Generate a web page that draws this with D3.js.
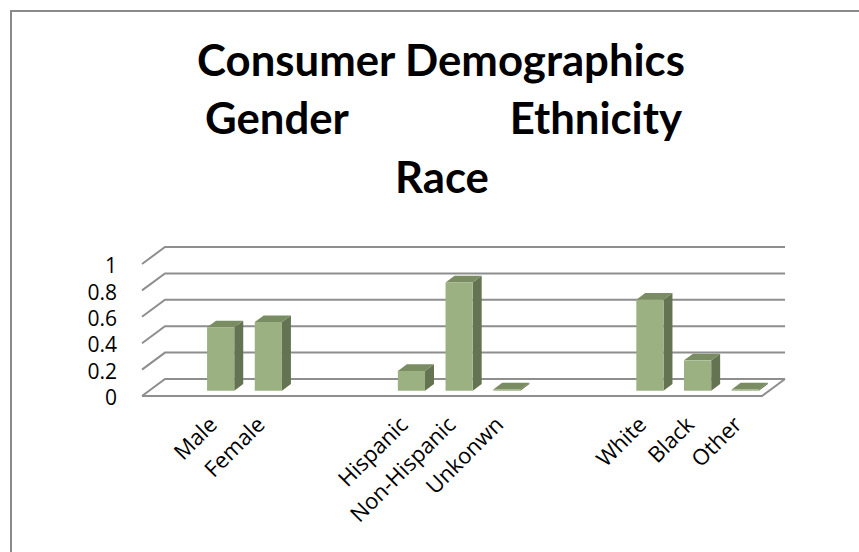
<!DOCTYPE html>
<html>
<head>
<meta charset="utf-8">
<script src="https://cdn.jsdelivr.net/npm/d3@7"></script>
<style>
  body { margin: 0; background: #fff; }
  svg { display: block; }
</style>
</head>
<body>
<div id="chart"></div>
<script>

// chart data
var categories = ["", "Male", "Female", "", "", "Hispanic", "Non-Hispanic", "Unkonwn", "", "", "White", "Black", "Other"];
var values = [null, 0.48, 0.52, null, null, 0.15, 0.82, 0.01, null, null, 0.69, 0.23, 0.01];
var yTicks = [0, 0.2, 0.4, 0.6, 0.8, 1];
var yTickLabels = ["0", "0.2", "0.4", "0.6", "0.8", "1"];
var titleMain = "Consumer Demographics";
var titleLeft = "Gender";
var titleRight = "Ethnicity";
var titleLast = "Race";

var W = 859, H = 552;

// 3d look: how far the back wall sits from the front plane
var depth = {dx: 23, dy: -17};
var barFront = 0.31, barBack = 0.70;

var svg = d3.select("#chart").append("svg")
    .attr("width", W)
    .attr("height", H);

// outer frame
svg.append("rect")
    .attr("x", 11).attr("y", 11)
    .attr("width", 900).attr("height", 600)
    .attr("fill", "none")
    .attr("stroke", "#8a8a8a")
    .attr("stroke-width", 2);

// set the ranges
var x = d3.scaleBand()
    .domain(d3.range(categories.length))
    .range([142, 762])
    .paddingInner(0.43)
    .paddingOuter(0.215);

var y = d3.scaleLinear().domain([0, 1]).range([396, 264]);

function off(z) { return [depth.dx * z, depth.dy * z]; }

var x0 = x.range()[0], x1 = x.range()[1];
var back = off(1);

// gridlines: left wall diagonal + back wall line
var grid = svg.append("g")
    .attr("fill", "none")
    .attr("stroke", "#8e8e8e")
    .attr("stroke-width", 2);

grid.selectAll(".grid")
    .data(yTicks)
  .enter().append("path")
    .attr("class", "grid")
    .attr("d", function(d) {
      return "M" + x0 + "," + y(d) +
             "L" + (x0 + back[0]) + "," + (y(d) + back[1]) +
             "L" + (x1 + back[0]) + "," + (y(d) + back[1]);
    });

// floor front and right edges
grid.append("path")
    .attr("d", "M" + x0 + "," + y(0) + "L" + x1 + "," + y(0) +
               "L" + (x1 + back[0]) + "," + (y(0) + back[1]));

// y axis labels
var yAxis = d3.axisLeft(y)
    .tickValues(yTicks)
    .tickFormat(function(d, i) { return yTickLabels[i]; })
    .tickSize(0)
    .tickPadding(9);

var yg = svg.append("g")
    .attr("transform", "translate(126,2)")
    .call(yAxis);
yg.select(".domain").remove();
yg.selectAll("text")
    .attr("fill", "#000")
    .style("font-family", "'Open Sans', sans-serif")
    .style("font-size", "21px");

// bars: side, top, front
var bars = svg.selectAll(".bar")
    .data(values.map(function(v, i) { return {i: i, v: v}; })
                .filter(function(d) { return d.v != null; }))
  .enter().append("g")
    .attr("class", "bar");

function face(d, which) {
  var f = off(barFront), b = off(barBack);
  var left = x(d.i), right = x(d.i) + x.bandwidth();
  var y0 = y(0), yv = y(d.v);
  var pts;
  if (which == "front") {
    pts = [[left + f[0], y0 + f[1]], [right + f[0], y0 + f[1]],
           [right + f[0], yv + f[1]], [left + f[0], yv + f[1]]];
  } else if (which == "side") {
    pts = [[right + f[0], y0 + f[1]], [right + b[0], y0 + b[1]],
           [right + b[0], yv + b[1]], [right + f[0], yv + f[1]]];
  } else {
    pts = [[left + f[0], yv + f[1]], [right + f[0], yv + f[1]],
           [right + b[0], yv + b[1]], [left + b[0], yv + b[1]]];
  }
  return "M" + pts.join("L") + "Z";
}

bars.append("path").attr("d", function(d) { return face(d, "side"); }).attr("fill", "#647453");
bars.append("path").attr("d", function(d) { return face(d, "top"); }).attr("fill", "#7a8c62");
bars.append("path").attr("d", function(d) { return face(d, "front"); }).attr("fill", "#9cb182");

// category labels, rotated
svg.selectAll(".cat")
    .data(categories.map(function(c, i) { return {i: i, c: c}; })
                    .filter(function(d) { return d.c != ""; }))
  .enter().append("text")
    .attr("class", "cat")
    .attr("transform", function(d) {
      return "translate(" + (x(d.i) + x.bandwidth() / 2 + 5) + ",426) rotate(-45)";
    })
    .attr("text-anchor", "end")
    .style("font-family", "'Open Sans', sans-serif")
    .style("font-size", "22px")
    .text(function(d) { return d.c; });

// title
var tfont = "Lato, 'Open Sans', sans-serif";
var t1 = svg.append("text")
    .attr("x", 441).attr("y", 76)
    .attr("text-anchor", "middle")
    .style("font-family", tfont)
    .style("font-weight", "bold")
    .style("font-size", "40px")
    .text(titleMain);

// fit the main title to the width it has in the picture
var fs = 40 * 488 / t1.node().getComputedTextLength();
t1.style("font-size", fs + "px");

svg.append("text")
    .attr("x", 205).attr("y", 134)
    .style("font-family", tfont).style("font-weight", "bold").style("font-size", fs + "px")
    .text(titleLeft);

svg.append("text")
    .attr("x", 682).attr("y", 134)
    .attr("text-anchor", "end")
    .style("font-family", tfont).style("font-weight", "bold").style("font-size", fs + "px")
    .text(titleRight);

svg.append("text")
    .attr("x", 442).attr("y", 193)
    .attr("text-anchor", "middle")
    .style("font-family", tfont).style("font-weight", "bold").style("font-size", fs + "px")
    .text(titleLast);

</script>
</body>
</html>
